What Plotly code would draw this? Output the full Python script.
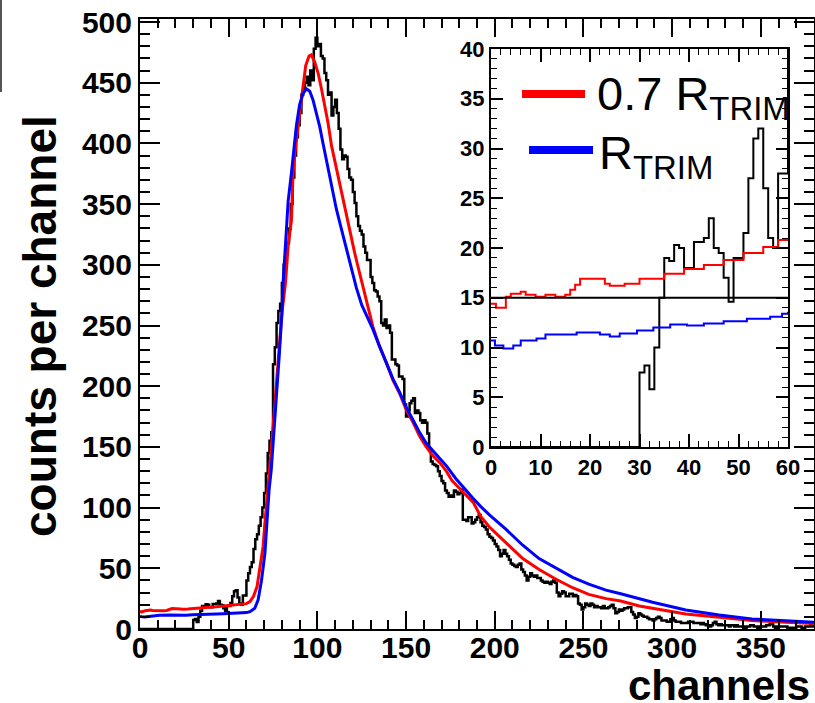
import numpy as np
import plotly.graph_objects as go

# ---------------- data ----------------
# black histogram: counts per 1-channel bin, channels 0..379
counts = [
    0, 0, 0, 0, 0, 0, 0, 0, 0, 0,
    0, 0, 0, 0, 0, 0, 0, 0, 0, 0,
    0, 0, 0, 0, 0, 0, 0, 0, 0, 0,
    7.5, 8.2, 5.8, 10, 15, 19, 18.7, 20.3, 20, 18,
    18, 20.6, 20.6, 21, 23, 20, 19.5, 17, 14.6, 19,
    19, 21.5, 27, 31, 32, 26, 21, 20, 27.5, 27.5,
    40, 46, 51, 55, 66, 74, 78, 85, 92, 100,
    112, 128, 145, 155, 162, 218, 232, 252, 262, 268,
    285, 300, 312, 318, 330, 350, 372, 390, 405, 415,
    425, 440, 445, 450, 455, 448, 460, 452, 478, 487,
    480, 482, 472, 470, 458, 452, 440, 442, 423, 430,
    436, 425, 412, 395, 387, 390, 389, 379, 372, 370,
    360, 351, 340, 332, 328, 325, 315, 310, 304, 304,
    290, 285, 279, 278, 274, 270, 252, 250, 255, 248,
    250, 244, 222, 222, 218, 217, 208, 208, 206, 185,
    175, 180, 186, 188, 190, 178, 180, 178, 172, 170,
    172, 170, 161, 148, 138, 136, 135, 134, 130, 126,
    122, 120, 114, 112, 109, 110, 109, 114, 113, 111,
    112, 115, 90, 90, 89, 92, 92, 87, 88, 90,
    92, 94, 88, 85, 84, 82, 78, 76, 75, 73,
    70, 68, 65, 60, 62, 65, 62, 60, 57, 54,
    53, 52, 51, 53, 54, 49, 47, 44, 40, 43,
    46, 44, 43, 44, 42, 42, 40, 39, 38, 39,
    38, 37, 39, 40, 38, 30, 27, 29, 31, 30,
    27, 27, 29, 29, 27, 28, 27, 21, 20, 16,
    18, 21, 20, 19, 21, 20, 18, 19, 18, 18,
    17, 19, 17, 17, 18, 19, 20, 17, 13, 14,
    16, 15, 16, 17, 17, 18, 18, 14, 12, 9,
    10, 13, 12, 11, 10, 10, 9, 8, 8, 7,
    8, 9, 10, 9, 7, 7, 7, 6, 6, 8,
    9, 7, 6, 6, 6, 5, 5, 5, 5, 6,
    6, 6, 5, 5, 5, 5, 4, 5, 4, 3,
    3, 2, 3, 5, 6, 4, 3, 4, 3, 3,
    3, 3, 2, 3, 3, 2, 3, 2, 2, 2,
    2, 1, 2, 2, 3, 3, 2, 2, 1, 2,
    2, 2, 2, 3, 3, 4, 5, 2, 1, 2,
    2, 2, 2, 2, 2, 1, 1, 1, 1, 1,
    2, 2, 2, 1, 1, 2, 2, 2, 3, 2,
]

# 0.7 R_TRIM simulation (red)
red_x = [0, 1, 3, 4, 6, 7, 9, 11, 13, 15, 16, 17, 18, 23, 24, 27, 30, 35, 39, 43,
         47, 51, 55, 58, 60, 62, 64, 66, 67.5, 69.4, 70.3, 71.3, 72.2, 74, 76, 78,
         80, 82, 83.5, 85.4, 86.3, 87.8, 89.1, 91, 92, 93.4, 95.3, 96.6, 98.5,
         100.4, 102.3, 104.1, 106, 108, 110, 111.6, 113.5, 115.4, 117.2, 119, 121,
         123, 125, 127.6, 131.3, 135, 139, 142.6, 146.4, 150, 154, 157.6, 161.4,
         165, 169, 172.7, 176, 180, 184, 188, 192, 197, 206.4, 215.8, 225, 234.6,
         243.9, 253, 262.7, 271, 281.5, 289, 307.7, 326.5, 345, 364, 380]
red_y = [14.4, 14.0, 15.1, 15.4, 15.6, 15.3, 15.1, 15.3, 15.1, 15.3, 15.8, 16.3,
         16.9, 16.4, 16.2, 16.4, 16.9, 17.4, 17.9, 18.3, 18.8, 19.5, 20.1, 20.8,
         20.9, 22.5, 27, 35, 49, 68, 85, 104, 120, 148, 185, 225, 260, 285, 315,
         337, 376, 398, 414, 439, 450, 464, 472, 473, 467, 458, 445, 431, 417, 398,
         384, 373, 362, 348, 335, 321, 310, 298, 287, 271, 249, 233, 219, 205, 194,
         181, 170, 159, 150, 143, 137, 130, 122, 116, 110, 104, 93, 84, 71, 58, 49,
         41, 34, 28.5, 25, 23, 19, 17, 12.4, 9.6, 7, 5.5, 4.5]

# R_TRIM simulation (blue)
blue_x = [0, 0.8, 2.5, 4.5, 6, 9.2, 11, 17.3, 22, 24, 26, 29.5, 32.8, 36.2, 39.6,
          43, 47, 51.7, 56.4, 58.8, 60, 62, 64.7, 66.6, 68.5, 70.4, 71.7, 72.8, 74,
          75.5, 77, 78.5, 80, 80.7, 82.6, 83.5, 85.4, 86.3, 88.2, 90, 91.9, 93.8,
          95.7, 97.5, 99.5, 101.3, 103.2, 105, 107, 108.8, 110.7, 112.6, 114.5,
          116.3, 118.2, 120, 122, 125, 128, 131.3, 135, 139, 142.6, 146.4, 150, 154,
          157.6, 161.4, 165, 169, 173, 178, 182, 187.6, 192, 197, 206.4, 215.8, 225,
          234.6, 243.9, 253, 262.7, 271, 281.5, 289, 307.7, 326.5, 345, 364, 380]
blue_y = [10.7, 10.2, 9.9, 10.2, 10.7, 10.9, 11.3, 11.5, 11.3, 11.1, 11.4, 11.7,
          12.0, 12.3, 12.2, 12.4, 12.65, 12.9, 13.1, 13.4, 13.5, 14.3, 17, 24, 40,
          62, 90, 115, 131, 160, 190, 225, 260, 286, 330, 352, 376, 390, 415, 432,
          441, 445, 443, 436, 425, 414, 400, 387, 373, 359, 346, 335, 324, 313, 302,
          291, 281, 267, 257, 247, 233, 219, 206, 195, 183, 172, 162, 153, 147, 141,
          134, 124, 117, 108, 101, 94, 82, 69, 58, 50, 42.6, 37, 32, 29, 25, 22,
          15.7, 11.5, 8.3, 6.6, 5.5]

threshold = 15          # horizontal reference line in the inset
main_xrange = [0, 380]
main_yrange = [0, 502.5]
inset_xrange = [0, 60]
inset_yrange = [0, 40]

# ---------------- figure ----------------
W, H = 815, 703
def px(x):
    return x / W
def py(y):
    return 1 - y / H

edges = np.arange(len(counts) + 1)
step_y = counts + [counts[-1]]

fig = go.Figure()
# main panel
fig.add_trace(go.Scatter(x=edges, y=step_y, mode="lines",
                         line=dict(shape="hv", color="black", width=2.5),
                         xaxis="x", yaxis="y"))
fig.add_trace(go.Scatter(x=red_x, y=red_y, mode="lines",
                         line=dict(color="#ff0000", width=3), xaxis="x", yaxis="y"))
fig.add_trace(go.Scatter(x=blue_x, y=blue_y, mode="lines",
                         line=dict(color="#0000ff", width=3), xaxis="x", yaxis="y"))
# inset panel
fig.add_trace(go.Scatter(x=edges, y=step_y, mode="lines",
                         line=dict(shape="hv", color="black", width=2),
                         xaxis="x2", yaxis="y2"))
fig.add_trace(go.Scatter(x=red_x, y=red_y, mode="lines",
                         line=dict(shape="hv", color="#ff0000", width=2),
                         xaxis="x2", yaxis="y2"))
fig.add_trace(go.Scatter(x=blue_x, y=blue_y, mode="lines",
                         line=dict(shape="hv", color="#0000ff", width=2),
                         xaxis="x2", yaxis="y2"))
fig.add_trace(go.Scatter(x=inset_xrange, y=[threshold, threshold], mode="lines",
                         line=dict(color="black", width=2), xaxis="x2", yaxis="y2"))

FONT = "Liberation Sans, Arial, Helvetica, sans-serif"
tickfont_main = dict(family=FONT, size=30, color="black", weight="bold")
tickfont_inset = dict(family=FONT, size=22, color="black", weight="bold")

common = dict(showline=True, linecolor="black", linewidth=2, mirror="ticks",
              ticks="inside", tickcolor="black", showgrid=False, zeroline=False,
              fixedrange=True, automargin=False)

fig.update_layout(
    width=W, height=H,
    margin=dict(l=0, r=0, t=0, b=0, autoexpand=False),
    paper_bgcolor="white", plot_bgcolor="white",
    showlegend=False,
    xaxis=dict(domain=[px(140), px(814)], range=main_xrange, anchor="y",
               tick0=0, dtick=50, ticklen=18, tickwidth=2, ticklabelstandoff=-9,
               minor=dict(dtick=10, ticklen=9, tickwidth=1.5, ticks="inside",
                          tickcolor="black"),
               tickfont=tickfont_main, **common),
    yaxis=dict(domain=[py(629), py(19)], range=main_yrange, anchor="x",
               tick0=0, dtick=50, ticklen=20, tickwidth=2,
               minor=dict(dtick=10, ticklen=10, tickwidth=1.5, ticks="inside",
                          tickcolor="black"),
               tickfont=tickfont_main, **common),
    xaxis2=dict(domain=[px(491), px(788)], range=inset_xrange, anchor="y2",
                tick0=0, dtick=10, ticklen=13, tickwidth=1.5,
                minor=dict(dtick=2, ticklen=6, tickwidth=1, ticks="inside",
                           tickcolor="black"),
                tickfont=tickfont_inset, **common),
    yaxis2=dict(domain=[py(447), py(49)], range=inset_yrange, anchor="x2",
                tick0=0, dtick=5, ticklen=12, tickwidth=1.5,
                minor=dict(dtick=1, ticklen=6, tickwidth=1, ticks="inside",
                           tickcolor="black"),
                tickfont=tickfont_inset, **common),
)

# axis titles
fig.add_annotation(text="counts per channel", xref="paper", yref="paper",
                   x=px(40), y=py(326), textangle=-90, showarrow=False,
                   xanchor="center", yanchor="middle",
                   font=dict(family=FONT, size=46, color="black", weight="bold"))
fig.add_annotation(text="channels", xref="paper", yref="paper",
                   x=px(812), y=py(685), showarrow=False,
                   xanchor="right", yanchor="middle",
                   font=dict(family=FONT, size=42, color="black", weight="bold"))

# inset legend
fig.add_shape(type="line", xref="paper", yref="paper",
              x0=px(522), x1=px(585), y0=py(94), y1=py(94),
              line=dict(color="#ff0000", width=8))
fig.add_shape(type="line", xref="paper", yref="paper",
              x0=px(529), x1=px(593), y0=py(150), y1=py(150),
              line=dict(color="#0000ff", width=8))
fig.add_annotation(text="0.7 R<sub>TRIM</sub>", xref="paper", yref="paper",
                   x=px(595), y=py(97), showarrow=False,
                   xanchor="left", yanchor="middle",
                   font=dict(family=FONT, size=47, color="black"))
fig.add_annotation(text="R<sub>TRIM</sub>", xref="paper", yref="paper",
                   x=px(597), y=py(156), showarrow=False,
                   xanchor="left", yanchor="middle",
                   font=dict(family=FONT, size=47, color="black"))

# edge of neighbouring pad at top-left
fig.add_shape(type="line", xref="paper", yref="paper",
              x0=px(1), x1=px(1), y0=py(0), y1=py(92),
              line=dict(color="#555555", width=2))

fig.write_html("out.html")
